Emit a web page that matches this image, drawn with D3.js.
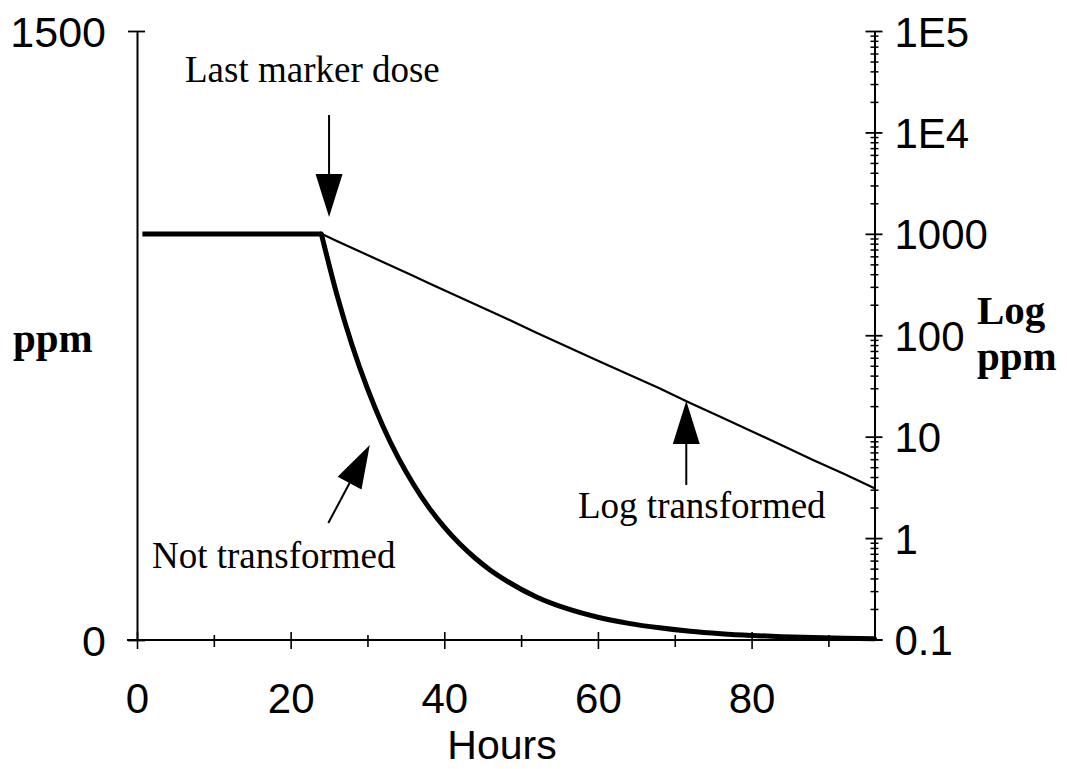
<!DOCTYPE html>
<html><head><meta charset="utf-8">
<script src="https://cdn.jsdelivr.net/npm/d3@7"></script>
<style>body{margin:0;background:#fff}svg{display:block}</style>
</head><body>
<svg id="c" width="1067" height="769"></svg>
<script>
// Data
const hours = [0.7, 24, 26, 28, 30, 32, 34, 36, 38, 40, 42, 44, 46, 48, 52, 56, 60, 64, 68, 72, 76, 80, 84, 88, 92, 96];
const ppm   = [1000, 1000, 852, 726, 619, 527, 449, 383, 326, 278, 237, 202, 172, 147, 106, 77, 56, 41, 30, 21.5, 15.6, 11.3, 8.2, 5.9, 4.3, 3.1];
const xTickValues = [0, 20, 40, 60, 80];
const xMinorValues = [10, 30, 50, 70, 90];
const yTickValues = [0, 1500];
const logTickValues = [0.1, 1, 10, 100, 1000, 1e4, 1e5];
const logTickLabels = ["0.1", "1", "10", "100", "1000", "1E4", "1E5"];
const xTitle = "Hours";
const yTitle = "ppm";
const y2Title = ["Log", "ppm"];

const data = hours.map((h, i) => ({h, v: ppm[i]}));
const svg = d3.select("#c");
const SANS = "'Liberation Sans', Arial, sans-serif";
const SERIF = "'Liberation Serif', 'Times New Roman', serif";

const x = d3.scaleLinear().domain([0, 96]).range([137, 874.5]);
const y = d3.scaleLinear().domain([0, 1500]).range([640, 31]);
const yl = d3.scaleLog().domain([0.1, 1e5]).range([639.5, 31]);

// X axis
const gx = svg.append("g").attr("transform", "translate(0,640)")
  .call(d3.axisBottom(x).tickValues(xTickValues).tickSize(9).tickSizeOuter(0).tickFormat(d3.format("d")));
gx.select(".domain").attr("stroke", "#000").attr("stroke-width", 2).attr("d", `M${x(0)-10},0H${x(96)+8}`);
gx.selectAll(".tick line").attr("y1", -8).attr("y2", 9).attr("stroke-width", 1.6);
gx.selectAll(".tick text").attr("y", 73).attr("dy", 0).attr("font-family", SANS).attr("font-size", 42).attr("fill", "#000");
const gxm = svg.append("g").attr("transform", "translate(0,640)")
  .call(d3.axisBottom(x).tickValues(xMinorValues).tickSize(7).tickFormat(""));
gxm.select(".domain").remove();
gxm.selectAll(".tick line").attr("y1", -5).attr("y2", 7).attr("stroke-width", 1.6);

// Left axis
const gy = svg.append("g").attr("transform", `translate(${x(0)},0)`)
  .call(d3.axisLeft(y).tickValues(yTickValues).tickSize(8).tickSizeOuter(0).tickFormat(d3.format("d")));
gy.select(".domain").attr("stroke-width", 2);
gy.selectAll(".tick line").attr("x1", 8).attr("x2", -9).attr("stroke-width", 1.8);
gy.selectAll(".tick text").attr("x", -31).attr("dy", "0.36em").attr("font-family", SANS).attr("font-size", 43).attr("fill", "#000");

// Right log axis
const minorLog = [];
for (let e = -1; e < 5; e++) for (let m = 2; m <= 9; m++) minorLog.push(m * Math.pow(10, e));
const gym = svg.append("g").attr("transform", `translate(${x(96)},0)`)
  .call(d3.axisRight(yl).tickValues(minorLog).tickSize(4).tickFormat(""));
gym.select(".domain").remove();
gym.selectAll(".tick line").attr("x1", -4).attr("x2", 4).attr("stroke-width", 1.5);
const gr = svg.append("g").attr("transform", `translate(${x(96)},0)`)
  .call(d3.axisRight(yl).tickValues(logTickValues).tickSize(8).tickSizeOuter(0)
    .tickFormat((d, i) => logTickLabels[i]));
gr.select(".domain").attr("stroke-width", 2);
gr.selectAll(".tick line").attr("x1", -9).attr("x2", 8).attr("stroke-width", 1.8);
gr.selectAll(".tick text").attr("x", 20).attr("dy", "0.36em").attr("font-family", SANS).attr("font-size", 42).attr("fill", "#000");

// Lines
svg.append("path").datum(data.filter(d => d.h >= 24))
  .attr("fill", "none").attr("stroke", "#000").attr("stroke-width", 2.2)
  .attr("d", d3.line().x(d => x(d.h)).y(d => yl(d.v)));
const flat = data.filter(d => d.h <= 24);
const decay = data.filter(d => d.h >= 24);
svg.append("path").datum(flat)
  .attr("fill", "none").attr("stroke", "#000").attr("stroke-width", 5)
  .attr("d", d3.line().x(d => x(d.h)).y(d => y(d.v)));
svg.append("path").datum(decay)
  .attr("fill", "none").attr("stroke", "#000").attr("stroke-width", 5).attr("stroke-linecap", "round")
  .attr("d", d3.line().curve(d3.curveMonotoneX).x(d => x(d.h)).y(d => y(d.v)));

// Axis titles
svg.append("text").attr("x", 502).attr("y", 759).attr("text-anchor", "middle")
  .attr("font-family", SANS).attr("font-size", 41).text(xTitle);
svg.append("text").attr("x", 13).attr("y", 352).attr("font-family", SERIF).attr("font-weight", "bold")
  .attr("font-size", 41).text(yTitle);
svg.append("text").attr("x", 977).attr("y", 324).attr("font-family", SERIF).attr("font-weight", "bold")
  .attr("font-size", 41).text(y2Title[0]);
svg.append("text").attr("x", 977).attr("y", 370).attr("font-family", SERIF).attr("font-weight", "bold")
  .attr("font-size", 41).text(y2Title[1]);

// Annotations
function arrow(x1, y1, x2, y2) {
  const dx = x2 - x1, dy = y2 - y1, L = Math.hypot(dx, dy);
  const ux = dx / L, uy = dy / L, hl = 43, hw = 13.5;
  const bx = x2 - ux * hl, by = y2 - uy * hl;
  svg.append("line").attr("x1", x1).attr("y1", y1).attr("x2", bx).attr("y2", by)
    .attr("stroke", "#000").attr("stroke-width", 2);
  svg.append("path").attr("fill", "#000")
    .attr("d", `M${x2},${y2}L${bx - uy*hw},${by + ux*hw}L${bx + uy*hw},${by - ux*hw}Z`);
}
arrow(x(25), y(1293), x(25), y(1042));
arrow(x(24.9), y(288), x(30.3), y(480));
arrow(x(71.5), yl(3.34), x(71.5), yl(22.5));

svg.append("text").attr("x", 185).attr("y", 82).attr("font-family", SERIF).attr("font-size", 37).text("Last marker dose");
svg.append("text").attr("x", 152).attr("y", 568).attr("font-family", SERIF).attr("font-size", 37).text("Not transformed");
svg.append("text").attr("x", 578).attr("y", 518).attr("font-family", SERIF).attr("font-size", 37).text("Log transformed");
</script>
</body></html>
